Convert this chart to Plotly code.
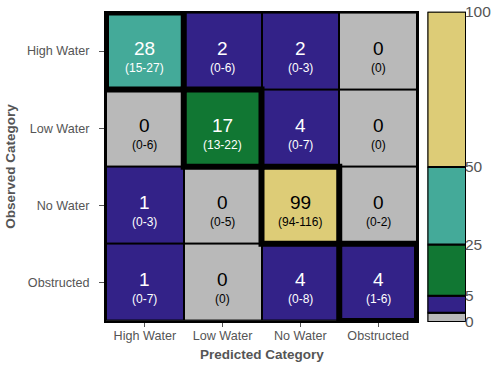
import plotly.graph_objects as go

categories = ["High Water", "Low Water", "No Water", "Obstructed"]
# rows = observed, columns = predicted
counts = [
    [28, 2, 2, 0],
    [0, 17, 4, 0],
    [1, 0, 99, 0],
    [1, 0, 4, 4],
]
ranges = [
    ["(15-27)", "(0-6)", "(0-3)", "(0)"],
    ["(0-6)", "(13-22)", "(0-7)", "(0)"],
    ["(0-3)", "(0-5)", "(94-116)", "(0-2)"],
    ["(0-7)", "(0)", "(0-8)", "(1-6)"],
]
# legend bins (colour key)
bin_labels = ["0", "5", "25", "50", "100"]
bin_tick_pos = [0, 8.5, 25, 50, 100]
bin_bases = [0, 3, 8.5, 25, 50]
bin_tops = [3, 8.5, 25, 50, 100]

GRAY = "#B9B9B9"
PURPLE = "#332288"
GREEN = "#117733"
TEAL = "#44AA99"
SAND = "#DDCC77"
bin_colors = [GRAY, PURPLE, GREEN, TEAL, SAND]

colorscale = [
    [0.0, GRAY], [0.005, GRAY],
    [0.005, PURPLE], [0.05, PURPLE],
    [0.05, GREEN], [0.25, GREEN],
    [0.25, TEAL], [0.5, TEAL],
    [0.5, SAND], [1.0, SAND],
]

def color_for(v):
    if v == 0:
        return GRAY
    if v <= 5:
        return PURPLE
    if v <= 25:
        return GREEN
    if v <= 50:
        return TEAL
    return SAND

FONT = "Liberation Sans, Arial, sans-serif"
TXT = "#555555"

n = len(categories)
fig = go.Figure()
fig.add_trace(go.Heatmap(
    z=counts, x=list(range(n)), y=list(range(n)),
    colorscale=colorscale, zmin=0, zmax=100, showscale=False,
    xgap=2, ygap=2, hoverinfo="skip",
))

annotations = []
shapes = []
for r in range(n):
    for c in range(n):
        v = counts[r][c]
        col = color_for(v)
        tc = "black" if col in (GRAY, SAND) else "white"
        annotations.append(dict(x=c, y=r, xref="x", yref="y", text=str(v),
                                showarrow=False, yshift=3,
                                font=dict(size=19, color=tc, family=FONT)))
        annotations.append(dict(x=c, y=r, xref="x", yref="y", text=ranges[r][c],
                                showarrow=False, yshift=-17,
                                font=dict(size=12, color=tc, family=FONT)))
for d in range(n):
    shapes.append(dict(type="rect", xref="x", yref="y",
                       x0=d - 0.5, x1=d + 0.5, y0=d - 0.5, y1=d + 0.5,
                       line=dict(color="black", width=6), layer="above"))

# axis titles as annotations for precise placement
annotations.append(dict(text="<b>Predicted Category</b>", xref="paper", yref="paper",
                        x=0.523, y=0.038, xanchor="center", yanchor="middle",
                        showarrow=False,
                        font=dict(size=13.5, color=TXT, family=FONT)))
annotations.append(dict(text="<b>Observed Category</b>", xref="paper", yref="paper",
                        x=0.021, y=0.548, xanchor="center", yanchor="middle",
                        showarrow=False, textangle=-90,
                        font=dict(size=13.5, color=TXT, family=FONT)))

# colour key as stacked bars
for i in range(len(bin_bases)):
    fig.add_trace(go.Bar(
        x=[0], y=[bin_tops[i] - bin_bases[i]], base=[bin_bases[i]],
        xaxis="x2", yaxis="y2", width=1,
        marker=dict(color=bin_colors[i], line=dict(color="black", width=2)),
        showlegend=False, hoverinfo="skip",
    ))

fig.update_layout(
    width=500, height=368,
    margin=dict(l=0, r=0, t=0, b=0, autoexpand=False),
    paper_bgcolor="white", plot_bgcolor="black",
    barmode="overlay",
    font=dict(family=FONT, color=TXT),
    xaxis=dict(domain=[0.212, 0.834], range=[-0.5, n - 0.5],
               tickvals=list(range(n)), ticktext=categories,
               ticks="outside", ticklen=4, tickcolor=TXT,
               tickfont=dict(size=12.6, color=TXT), ticklabelstandoff=-2,
               showgrid=False, zeroline=False, automargin=False,
               showline=True, linecolor="black", linewidth=2, mirror=True),
    yaxis=dict(domain=[0.128, 0.966], range=[n - 0.5, -0.5],
               tickvals=list(range(n)), ticktext=categories,
               ticks="outside", ticklen=5, tickcolor=TXT,
               tickfont=dict(size=12.6, color=TXT), ticklabelstandoff=7,
               showgrid=False, zeroline=False, automargin=False,
               showline=True, linecolor="black", linewidth=2, mirror=True),
    xaxis2=dict(domain=[0.855, 0.932], range=[-0.5, 0.5], anchor="y2",
                showticklabels=False, showgrid=False, zeroline=False, ticks="",
                automargin=False),
    yaxis2=dict(domain=[0.125, 0.968], range=[0, 100], anchor="x2", side="right",
                tickvals=bin_tick_pos, ticktext=bin_labels, ticks="",
                tickfont=dict(size=15.5, color=TXT), automargin=False,
                ticklabelstandoff=-2,
                showgrid=False, zeroline=False, showline=False),
    annotations=annotations, shapes=shapes,
)

fig.write_html("out.html", config={"displayModeBar": False},
               post_script="document.body.style.margin='0';document.body.style.padding='0';")
